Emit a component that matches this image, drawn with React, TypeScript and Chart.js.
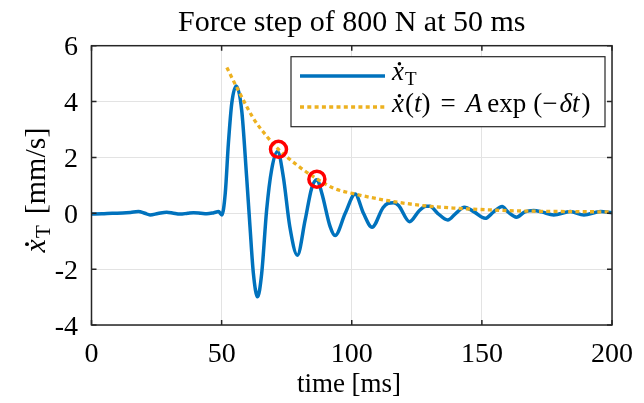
import React, { useEffect, useRef } from "react";
import { Chart, registerables } from "chart.js";

Chart.register(...registerables);

// ---- data ----
const TITLE = "Force step of 800 N at 50 ms";
const X_LABEL = "time [ms]";
const X_TICKS = [0, 50, 100, 150, 200];
const Y_TICKS = [-4, -2, 0, 2, 4, 6];

// measured velocity x_T (ms, mm/s)
const timeT = [
  0, 4, 8, 12, 15, 18, 20.5, 22.5, 25.5, 28.9, 31.5, 34, 37, 39.2, 42, 44.3, 47, 48.8, 50.1,
  51.4, 52.6, 53.9, 55.6, 57.7, 59.6, 60.9, 62.2, 63.8, 65.4, 67.3, 69.2, 71.5, 73.7, 76.2,
  79.1, 82.1, 84.6, 86.6, 88.5, 91.7, 93.6, 97.5, 101.3, 104.5, 107.8, 112, 114, 116, 118,
  122.2, 126, 128.5, 130, 133, 136.9, 140, 143.3, 147, 151.3, 154.5, 157.8, 160, 163.3,
  166.5, 169.9, 173, 177.6, 184, 189.2, 195.6, 200,
];
const velT = [
  -0.03, -0.02, 0.0, 0.01, 0.03, 0.06, 0.0, -0.06, -0.01, 0.04, 0.0, -0.03, 0.0, 0.02, 0.0,
  -0.02, 0.02, 0.06, -0.06, 0.72, 2.5, 3.94, 4.56, 3.7, 1.31, -0.48, -2.15, -2.99, -2.15,
  0.12, 1.55, 2.21, 1.31, -0.48, -1.5, -0.24, 0.9, 1.2, 0.72, -0.48, -0.8, 0.0, 0.69, 0.0,
  -0.5, 0.2, 0.36, 0.38, 0.28, -0.3, 0.1, 0.25, 0.25, 0.0, -0.24, 0.0, 0.22, 0.05, -0.18,
  0.05, 0.24, 0.05, -0.14, 0.05, 0.1, 0.05, -0.06, 0.06, -0.06, 0.06, 0.02,
];

// exponential envelope fit (ms, mm/s)
const fitTime = [52, 55.6, 62.2, 67.4, 71.7, 78.9, 86.3, 93, 100.7, 114.7, 128.8, 140.3, 153.1, 165.9, 185.1, 200];
const fitVel = [5.22, 4.55, 3.4, 2.75, 2.3, 1.73, 1.25, 0.9, 0.7, 0.44, 0.26, 0.18, 0.12, 0.08, 0.06, 0.05];

// highlighted peaks
const peakTime = [71.85, 86.6];
const peakVel = [2.29, 1.22];

const BLUE = "#0072BD";
const ORANGE = "#EDB120";
const FONT = '"Liberation Serif", "Times New Roman", serif';

type Seg = { t: string; it?: boolean; size: number; dy?: number; gap?: number; dot?: boolean };

function drawSegs(ctx: CanvasRenderingContext2D, segs: Seg[], x: number, y: number, draw = true): number {
  let cx = x;
  for (const s of segs) {
    cx += s.gap ?? 0;
    ctx.font = `${s.it ? "italic " : ""}${s.size}px ${FONT}`;
    const w = ctx.measureText(s.t).width;
    if (draw) {
      ctx.fillText(s.t, cx, y + (s.dy ?? 0));
      if (s.dot) {
        ctx.beginPath();
        ctx.arc(cx + w * 0.62, y - s.size * 0.6, s.size * 0.065, 0, Math.PI * 2);
        ctx.fill();
      }
    }
    cx += w;
  }
  return cx - x;
}

const overlay = {
  id: "overlay",
  afterDraw(chart: any) {
    const ctx: CanvasRenderingContext2D = chart.ctx;
    const { left, right, top, bottom } = chart.chartArea;
    const xs = chart.scales.x;
    const ys = chart.scales.y;
    ctx.save();

    // box + inward ticks
    ctx.strokeStyle = "#262626";
    ctx.lineWidth = 1.5;
    ctx.strokeRect(left, top, right - left, bottom - top);
    ctx.beginPath();
    const tl = 5;
    for (const v of X_TICKS) {
      const px = xs.getPixelForValue(v);
      ctx.moveTo(px, bottom);
      ctx.lineTo(px, bottom - tl);
      ctx.moveTo(px, top);
      ctx.lineTo(px, top + tl);
    }
    for (const v of Y_TICKS) {
      const py = ys.getPixelForValue(v);
      ctx.moveTo(left, py);
      ctx.lineTo(left + tl, py);
      ctx.moveTo(right, py);
      ctx.lineTo(right - tl, py);
    }
    ctx.stroke();

    ctx.fillStyle = "#000";
    ctx.textBaseline = "alphabetic";

    // tick labels
    ctx.font = `28px ${FONT}`;
    ctx.textAlign = "center";
    for (const v of X_TICKS) {
      ctx.fillText(String(v), xs.getPixelForValue(v), 362);
    }
    ctx.textAlign = "right";
    for (const v of Y_TICKS) {
      ctx.fillText(String(v), left - 13.5, ys.getPixelForValue(v) + 9.5);
    }

    // title
    ctx.textAlign = "center";
    ctx.font = `30px ${FONT}`;
    ctx.fillText(TITLE, (left + right) / 2, 31);

    // x label
    ctx.font = `27px ${FONT}`;
    ctx.fillText(X_LABEL, 349, 392);

    // y label
    ctx.textAlign = "left";
    const ySegs: Seg[] = [
      { t: "x", it: true, size: 30, dot: true },
      { t: "T", size: 21, dy: 5, gap: 1 },
      { t: "[mm/s]", size: 30, gap: 11 },
    ];
    const yw = drawSegs(ctx, ySegs, 0, 0, false);
    ctx.save();
    ctx.translate(45, 190);
    ctx.rotate(-Math.PI / 2);
    drawSegs(ctx, ySegs, -yw / 2, 0);
    ctx.restore();

    // legend
    const lx = 291, ly = 56.7, lw = 314, lh = 70;
    ctx.fillStyle = "#fff";
    ctx.fillRect(lx, ly, lw, lh);
    ctx.strokeStyle = "#262626";
    ctx.lineWidth = 1.2;
    ctx.strokeRect(lx, ly, lw, lh);

    ctx.lineWidth = 3.5;
    ctx.strokeStyle = BLUE;
    ctx.beginPath();
    ctx.moveTo(300, 76);
    ctx.lineTo(385, 76);
    ctx.stroke();
    ctx.strokeStyle = ORANGE;
    ctx.setLineDash([4, 3.3]);
    ctx.beginPath();
    ctx.moveTo(300, 107);
    ctx.lineTo(385, 107);
    ctx.stroke();
    ctx.setLineDash([]);

    ctx.fillStyle = "#000";
    drawSegs(ctx, [
      { t: "x", it: true, size: 27, dot: true },
      { t: "T", size: 19, dy: 5, gap: 1 },
    ], 392, 80);
    drawSegs(ctx, [
      { t: "x", it: true, size: 27, dot: true },
      { t: "(", size: 27, gap: 1 },
      { t: "t", it: true, size: 27 },
      { t: ")", size: 27 },
      { t: "=", size: 27, gap: 10 },
      { t: "A", it: true, size: 27, gap: 10 },
      { t: "exp", size: 27, gap: 5 },
      { t: "(", size: 27, gap: 7 },
      { t: "\u2212", size: 27 },
      { t: "\u03B4", it: true, size: 27, gap: 2 },
      { t: "t", it: true, size: 27 },
      { t: ")", size: 27, gap: 2 },
    ], 392, 112);

    ctx.restore();
  },
};

export default function App() {
  const ref = useRef<HTMLCanvasElement>(null);
  useEffect(() => {
    if (!ref.current) return;
    const chart = new Chart(ref.current, {
      type: "line",
      data: {
        datasets: [
          {
            label: "peaks",
            data: peakTime.map((t, i) => ({ x: t, y: peakVel[i] })),
            showLine: false,
            pointRadius: 8,
            pointBorderWidth: 3.5,
            pointBorderColor: "#FF0000",
            pointBackgroundColor: "rgba(0,0,0,0)",
            borderColor: "#FF0000",
            order: 0,
          },
          {
            label: "fit",
            data: fitTime.map((t, i) => ({ x: t, y: fitVel[i] })),
            borderColor: ORANGE,
            borderWidth: 3.3,
            borderDash: [4, 3.3],
            pointRadius: 0,
            cubicInterpolationMode: "monotone",
            fill: false,
            order: 1,
          },
          {
            label: "xT",
            data: timeT.map((t, i) => ({ x: t, y: velT[i] })),
            borderColor: BLUE,
            borderWidth: 3.5,
            pointRadius: 0,
            cubicInterpolationMode: "monotone",
            fill: false,
            order: 2,
          },
        ],
      },
      options: {
        responsive: false,
        animation: false,
        layout: { padding: { top: 45.7, right: 32, left: 0, bottom: 0 } },
        plugins: { legend: { display: false }, title: { display: false }, tooltip: { enabled: false } },
        scales: {
          x: {
            type: "linear",
            min: 0,
            max: 200,
            afterBuildTicks: (s: any) => { s.ticks = X_TICKS.map((v) => ({ value: v })); },
            afterFit: (s: any) => { s.height = 403 - 325; },
            ticks: { display: false },
            grid: { color: "#e3e3e3", drawTicks: false, lineWidth: 1 },
            border: { display: false },
          },
          y: {
            type: "linear",
            min: -4,
            max: 6,
            afterBuildTicks: (s: any) => { s.ticks = Y_TICKS.map((v) => ({ value: v })); },
            afterFit: (s: any) => { s.width = 91.5; },
            ticks: { display: false },
            grid: { color: "#e3e3e3", drawTicks: false, lineWidth: 1 },
            border: { display: false },
          },
        },
      },
      plugins: [overlay],
    });
    return () => chart.destroy();
  }, []);
  return (
    <div style={{ position: "fixed", left: 0, top: 0, width: 644, height: 403, background: "#fff" }}>
      <canvas ref={ref} width={644} height={403} style={{ width: 644, height: 403, display: "block" }} />
    </div>
  );
}
